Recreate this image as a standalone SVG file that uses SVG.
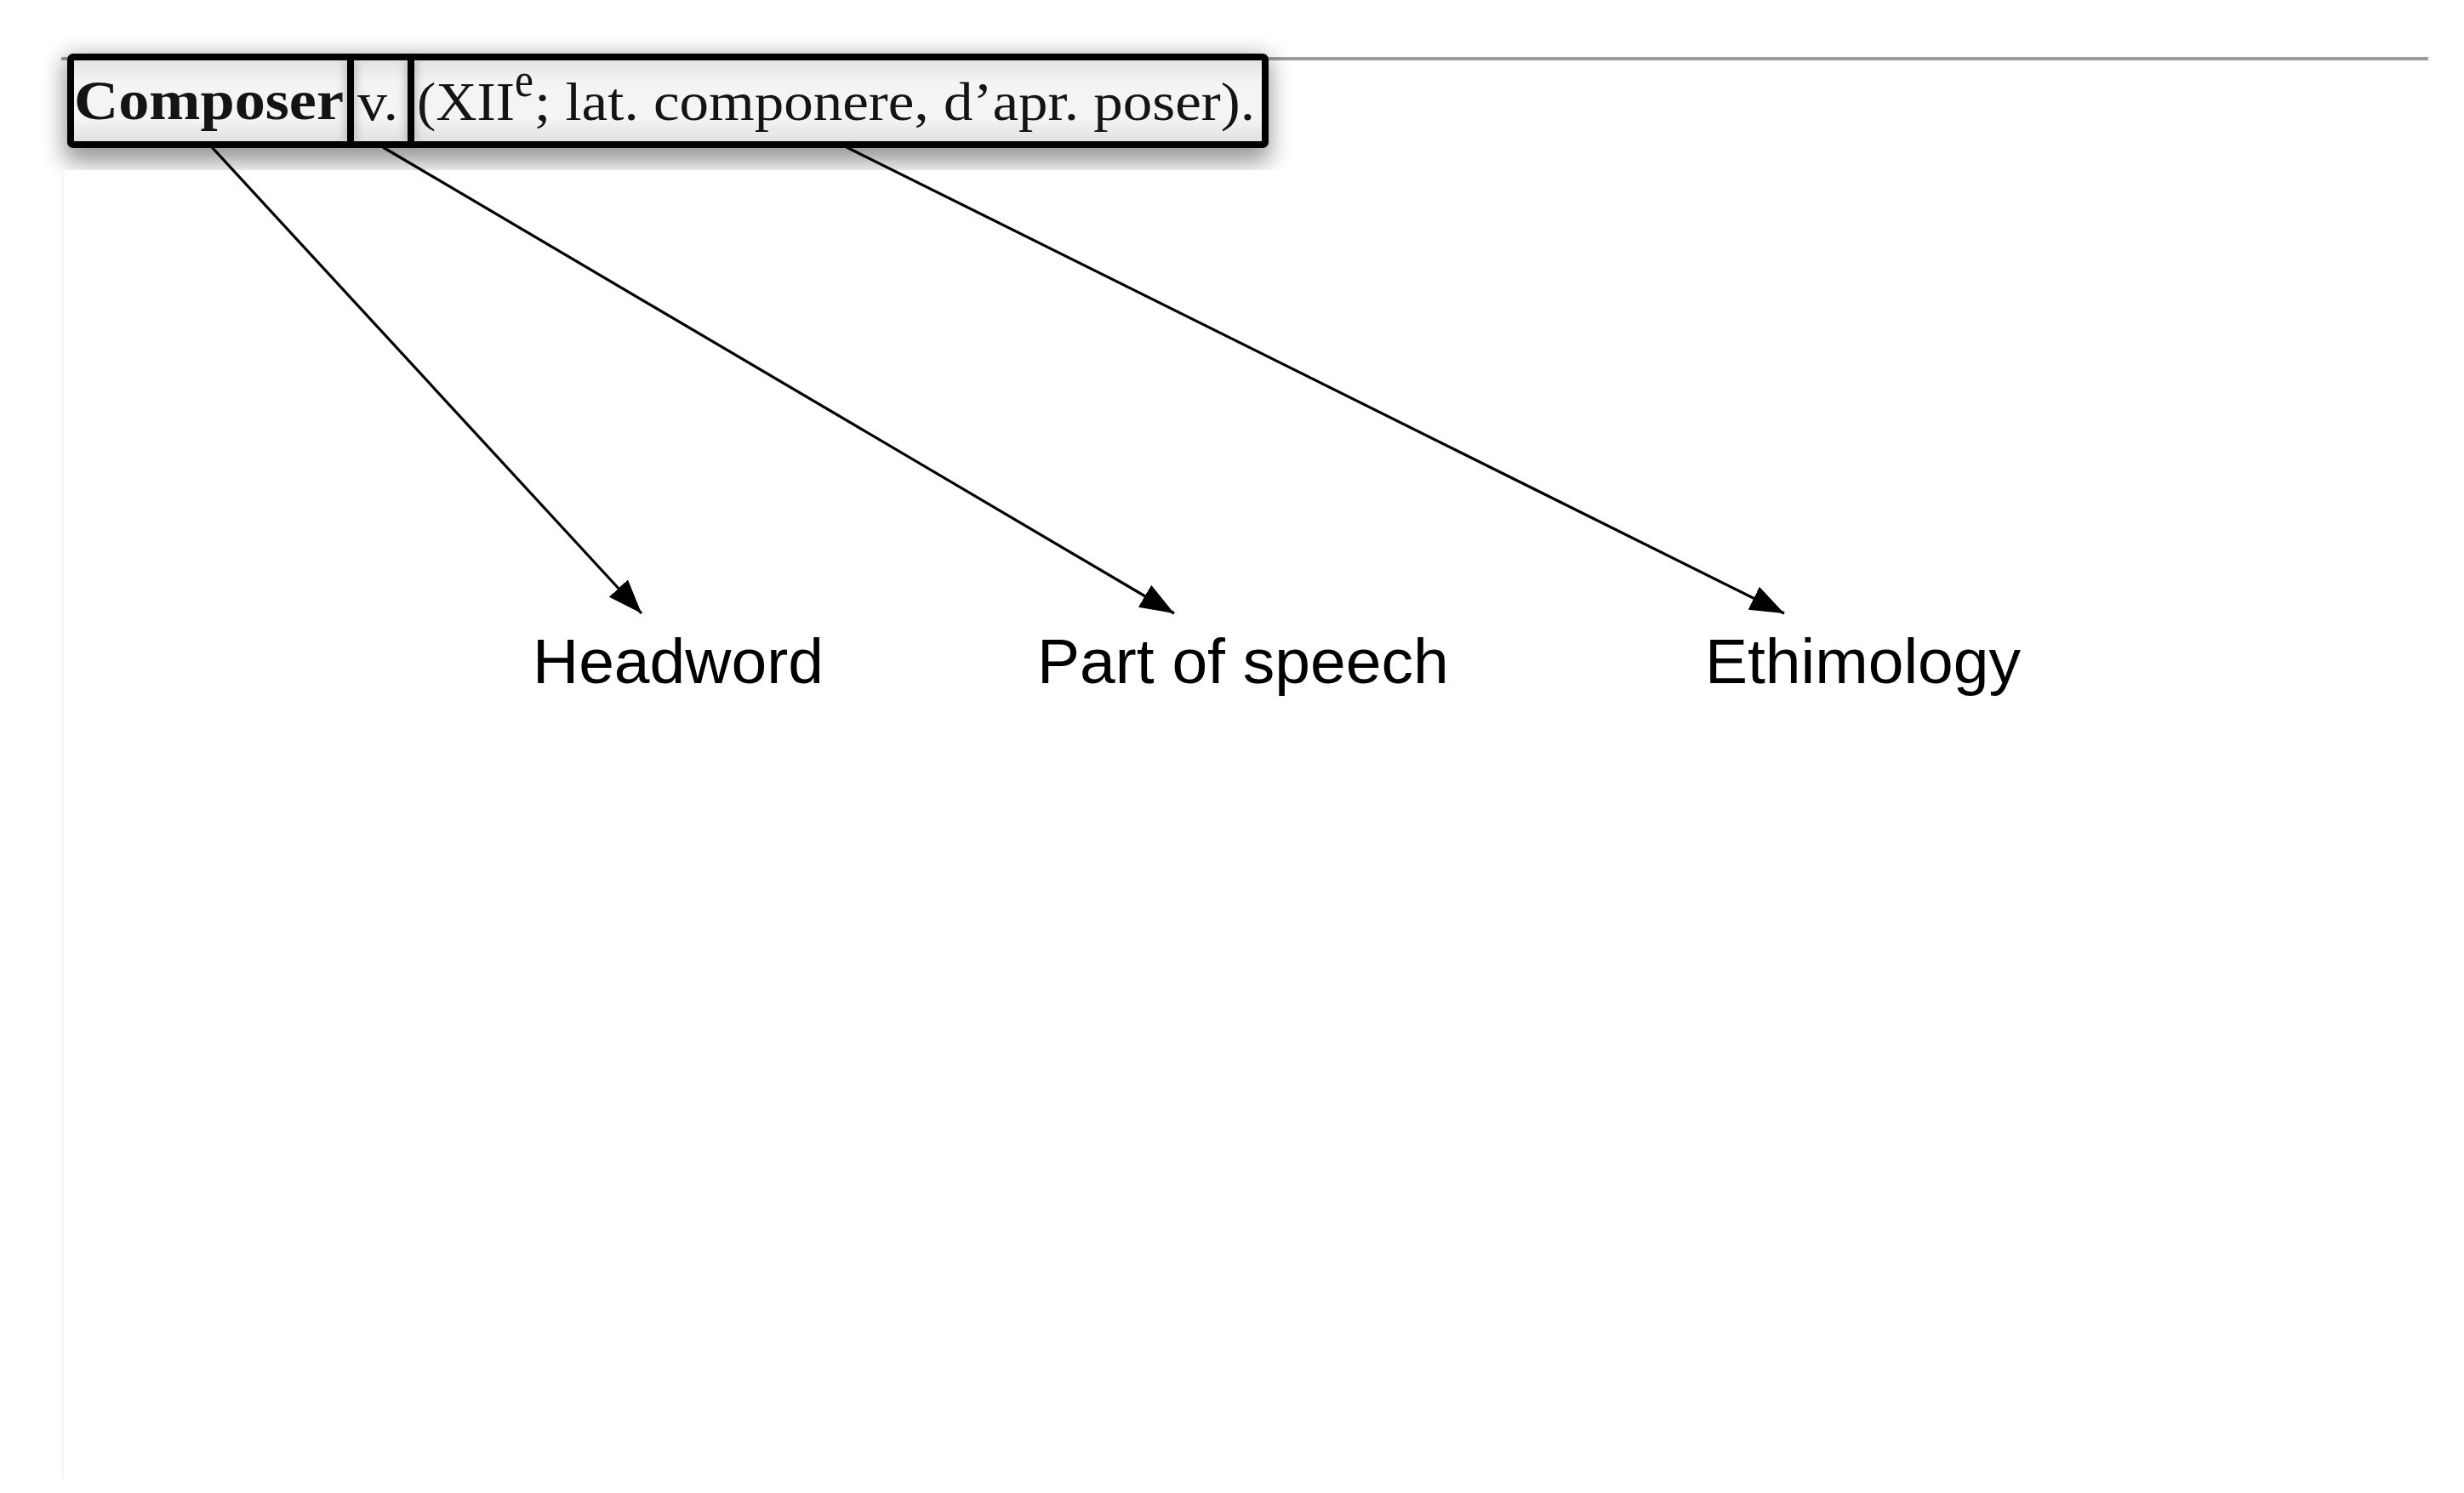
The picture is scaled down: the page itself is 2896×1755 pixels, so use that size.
<svg xmlns="http://www.w3.org/2000/svg" width="2896" height="1755" viewBox="0 0 2896 1755">
  <style>
    .cell { stroke: #000; stroke-width: 8; fill: url(#cellFill); }
    .serif { font-family: "Liberation Serif", "Times New Roman", serif; fill: #141414; }
    .label { font-family: "Liberation Sans", Arial, sans-serif; font-size: 75px; fill: #000; }
    .conn { stroke: #000; stroke-width: 3.2; fill: none; marker-end: url(#arrow); }
  </style>
  <defs>
    <linearGradient id="cellFill" x1="0" y1="0" x2="0" y2="1">
      <stop offset="0" stop-color="#e1e1e1"/>
      <stop offset="0.3" stop-color="#f4f4f4"/>
      <stop offset="0.7" stop-color="#f4f4f4"/>
      <stop offset="1" stop-color="#dedede"/>
    </linearGradient>
    <filter id="blur" x="-10%" y="-60%" width="120%" height="220%">
      <feGaussianBlur stdDeviation="14"/>
    </filter>
    <filter id="blurSmall" x="-50%" y="-20%" width="200%" height="140%">
      <feGaussianBlur stdDeviation="5"/>
    </filter>
    <marker id="arrow" markerUnits="userSpaceOnUse" viewBox="0 0 40 30" refX="40" refY="15" markerWidth="40" markerHeight="30" orient="auto">
      <path d="M0,0 L40,15 L0,30 Z" fill="#000"/>
    </marker>
  </defs>

  <rect x="0" y="0" width="2896" height="1755" fill="#fff"/>

  <!-- page rule -->
  <line x1="72" y1="69" x2="2854" y2="69" stroke="#9c9c9c" stroke-width="4"/>

  <!-- shadow of the screenshot strip -->
  <rect x="76" y="68" width="1416" height="122" fill="#000" opacity="0.42" filter="url(#blur)"/>
  <rect x="75" y="200" width="2821" height="1555" fill="#fff"/>
  <line x1="74" y1="205" x2="74" y2="1740" stroke="#f4f4f4" stroke-width="2"/>

  <g id="box-headword">
    <rect class="cell" x="83" y="67" width="329" height="103" rx="3"/>
    <text class="serif" x="87" y="140" font-size="66" font-weight="bold" textLength="317" lengthAdjust="spacingAndGlyphs">Composer</text>
  </g>
  <g id="box-pos">
    <rect class="cell" x="412" y="67" width="71" height="103"/>
    <text class="serif" x="420" y="141" font-size="64" textLength="48" lengthAdjust="spacingAndGlyphs">v.</text>
  </g>
  <g id="box-etym">
    <rect class="cell" x="483" y="67" width="1004" height="103" rx="3"/>
    <text class="serif" font-size="64"><tspan x="490" y="141" textLength="115" lengthAdjust="spacingAndGlyphs">(XII</tspan><tspan x="605" y="113" font-size="56" textLength="22" lengthAdjust="spacingAndGlyphs">e</tspan><tspan x="628" y="141" textLength="847" lengthAdjust="spacingAndGlyphs">; lat. componere, d’apr. poser).</tspan></text>
  </g>
  <!-- soft shading along dividers -->
  <g opacity="0.35" filter="url(#blurSmall)">
    <line x1="412" y1="72" x2="412" y2="166" stroke="#777" stroke-width="16"/>
    <line x1="483" y1="72" x2="483" y2="166" stroke="#777" stroke-width="16"/>
  </g>
  <line x1="412" y1="67" x2="412" y2="170" stroke="#000" stroke-width="8"/>
  <line x1="483" y1="67" x2="483" y2="170" stroke="#000" stroke-width="8"/>

  <g id="connectors">
    <line class="conn" x1="249" y1="173" x2="754" y2="721"/>
    <line class="conn" x1="450" y1="173" x2="1380" y2="721"/>
    <line class="conn" x1="995" y1="173" x2="2097" y2="721"/>
  </g>

  <g id="label-headword">
    <text class="label" x="626" y="803">Headword</text>
  </g>
  <g id="label-pos">
    <text class="label" x="1219" y="803">Part of speech</text>
  </g>
  <g id="label-etym">
    <text class="label" x="2004" y="803">Ethimology</text>
  </g>
</svg>
